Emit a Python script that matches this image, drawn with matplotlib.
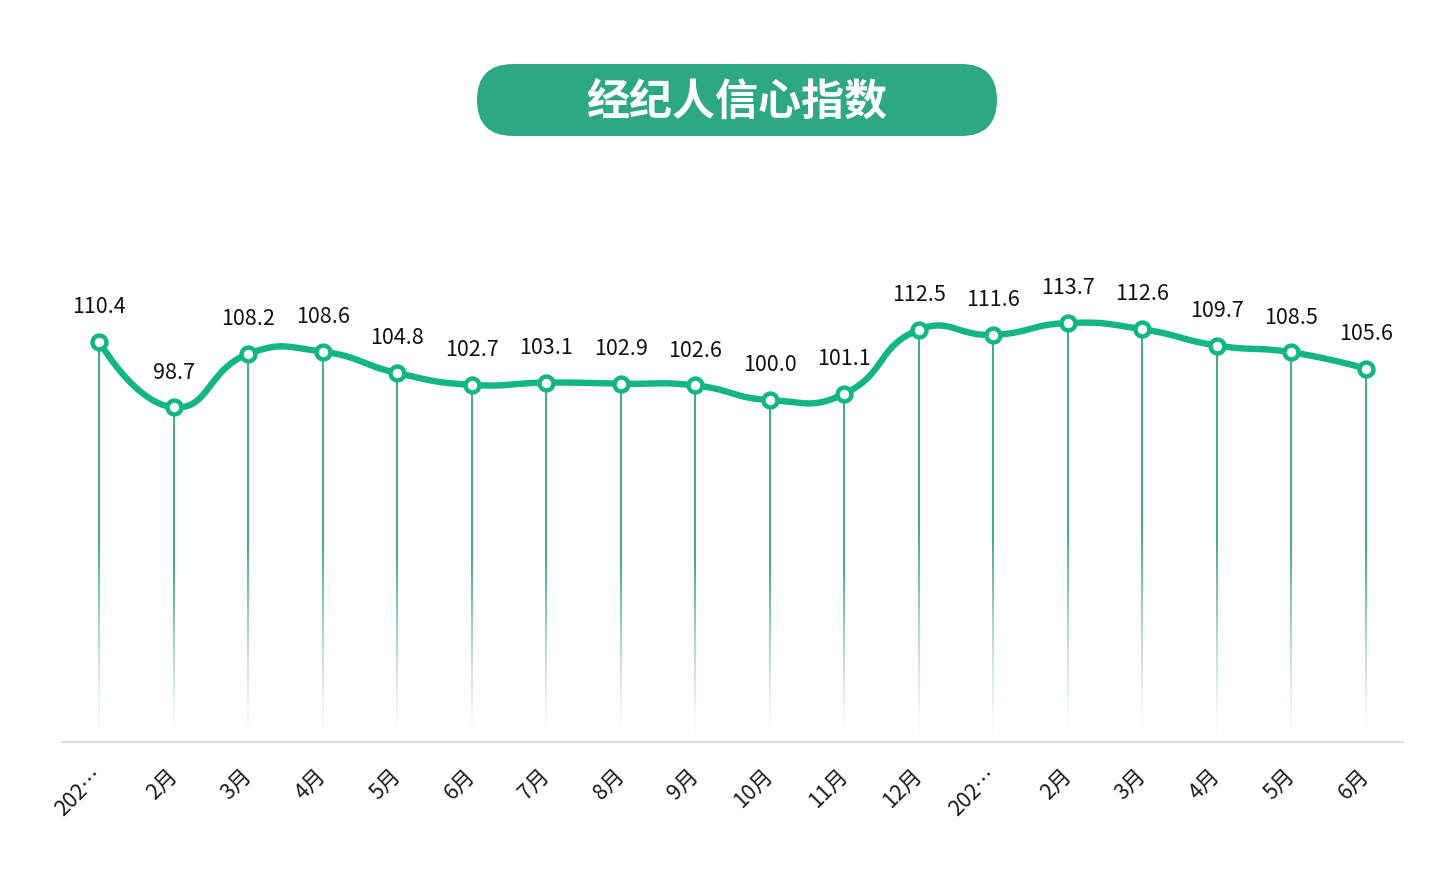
import numpy as np
import matplotlib.pyplot as plt
import matplotlib.transforms as mtransforms
from matplotlib.collections import LineCollection
from matplotlib.patches import FancyBboxPatch

plt.rcParams['font.family'] = ['Noto Sans CJK SC', 'DejaVu Sans']

title = '经纪人信心指数'
months = ['202…', '2月', '3月', '4月', '5月', '6月', '7月', '8月', '9月',
          '10月', '11月', '12月', '202…', '2月', '3月', '4月', '5月', '6月']
values = [110.4, 98.7, 108.2, 108.6, 104.8, 102.7, 103.1, 102.9, 102.6,
          100.0, 101.1, 112.5, 111.6, 113.7, 112.6, 109.7, 108.5, 105.6]

line_color = '#12b584'
drop_color = '#3a9f7d'

W, H = 1453, 876


def smooth_curve(xs, ys, sx, sy, smooth=0.5, steps=30):
    # bezier smoothing in pixel-like space, similar to echarts smooth line
    px = np.asarray(xs, float) * sx
    py = np.asarray(ys, float) * sy
    n = len(px)
    cp_in = np.zeros((n, 2))
    cp_out = np.zeros((n, 2))
    for i in range(n):
        p = np.array([px[i], py[i]])
        if i == 0 or i == n - 1:
            cp_in[i] = p
            cp_out[i] = p
            continue
        prev = np.array([px[i - 1], py[i - 1]])
        nxt = np.array([px[i + 1], py[i + 1]])
        v = (nxt - prev) * smooth
        d0 = np.hypot(*(p - prev))
        d1 = np.hypot(*(nxt - p))
        r = d0 / (d0 + d1)
        cp_in[i] = p - v * r
        cp_out[i] = p + v * (1 - r)
    out = []
    t = np.linspace(0, 1, steps)[:, None]
    for i in range(n - 1):
        p0 = np.array([px[i], py[i]])
        p3 = np.array([px[i + 1], py[i + 1]])
        c1 = cp_out[i]
        c2 = cp_in[i + 1]
        seg = ((1 - t) ** 3) * p0 + 3 * ((1 - t) ** 2) * t * c1 + 3 * (1 - t) * t ** 2 * c2 + t ** 3 * p3
        out.append(seg if i == 0 else seg[1:])
    pts = np.vstack(out)
    return pts[:, 0] / sx, pts[:, 1] / sy


fig = plt.figure(figsize=(W / 100, H / 100), dpi=100)

# title banner
bx0, by0, bw, bh = 477, 64, 520, 72
ax_t = fig.add_axes([bx0 / W, (H - by0 - bh) / H, bw / W, bh / H])
ax_t.set_xlim(0, bw)
ax_t.set_ylim(0, bh)
ax_t.axis('off')
ax_t.add_patch(FancyBboxPatch((0, 0), bw, bh, boxstyle='round,pad=0,rounding_size=36',
                              facecolor='#2ea884', edgecolor='none'))
ax_t.text(bw / 2, bh / 2 - 3, title, color='white', fontsize=31, fontweight='bold',
          ha='center', va='center')

# main plot
left, right, base, top = 62, 1403, 742, 200
ax = fig.add_axes([left / W, (H - base) / H, (right - left) / W, (base - top) / H])
ymin = 39.15
ppu = 5.62
ymax = ymin + (base - top) / ppu
ax.set_xlim(-0.5, len(months) - 0.5)
ax.set_ylim(ymin, ymax)

x = np.arange(len(months))
sx = (right - left) / len(months)
cx, cy = smooth_curve(x, values, sx, ppu)

# drop lines with fade to the bottom
for xi, yi in zip(x, values):
    ys = np.linspace(ymin, yi, 80)
    segs = [[(xi, ys[k]), (xi, ys[k + 1])] for k in range(len(ys) - 1)]
    f = (ys[:-1] - ymin) / (yi - ymin)
    alpha = np.clip(f * 2.0, 0, 1) ** 1.3
    cols = np.zeros((len(segs), 4))
    cols[:, :3] = plt.matplotlib.colors.to_rgb(drop_color)
    cols[:, 3] = alpha
    ax.add_collection(LineCollection(segs, colors=cols, linewidths=1.3, zorder=1))

ax.plot(cx, cy, color=line_color, lw=4.6, zorder=3, solid_capstyle='round')
ax.plot(x, values, 'o', ms=10, mfc='white', mec=line_color, mew=3.2, zorder=4)

for xi, yi in zip(x, values):
    ax.annotate(f'{yi:.1f}', (xi, yi), xytext=(0, 25), textcoords='offset points',
                ha='center', va='center', fontsize=15.5, color='#111111')

ax.set_xticks(x)
ax.set_xticklabels(months, rotation=45, ha='right', va='center',
                   rotation_mode='anchor', fontsize=15.5, color='#1a1a1a')
offset = mtransforms.ScaledTranslation(4 / 100, 0, fig.dpi_scale_trans)
for lab in ax.get_xticklabels():
    lab.set_transform(lab.get_transform() + offset)
ax.tick_params(axis='x', length=0, pad=22)
ax.set_yticks([])
for s in ['top', 'left', 'right']:
    ax.spines[s].set_visible(False)
ax.spines['bottom'].set_color('#dcdcdc')
ax.spines['bottom'].set_linewidth(1.5)

fig.savefig('out.png', dpi=100)
